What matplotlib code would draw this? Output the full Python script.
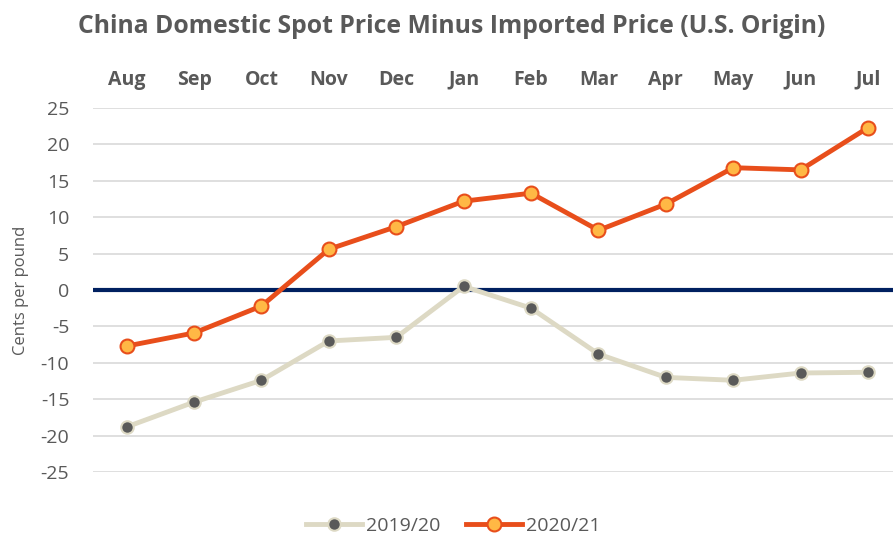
import numpy as np
import matplotlib.pyplot as plt

# data
months = ['Aug', 'Sep', 'Oct', 'Nov', 'Dec', 'Jan', 'Feb', 'Mar', 'Apr', 'May', 'Jun', 'Jul']
y2019 = [-18.8, -15.4, -12.4, -7.0, -6.5, 0.5, -2.5, -8.8, -12.0, -12.4, -11.4, -11.3]
y2020 = [-7.7, -5.9, -2.2, 5.6, 8.7, 12.2, 13.3, 8.2, 11.8, 16.8, 16.5, 22.3]
yticks = [25, 20, 15, 10, 5, 0, -5, -10, -15, -20, -25]

plt.rcParams['font.family'] = ['Open Sans', 'DejaVu Sans']
grey = '#595959'

fig = plt.figure(figsize=(8.93, 5.33), dpi=100)
ax = fig.add_axes([0.1041, 0.1144, 0.8959, 0.683])

x = np.arange(len(months))
for t in yticks:
    if t != 0:
        ax.axhline(t, color='#d9d9d9', lw=1.2, zorder=1)
ax.axhline(0, color='#002060', lw=3, zorder=2)

ax.plot(x, y2019, color='#ddd9c4', lw=3.5, marker='o', ms=9,
        mfc='#595959', mec='#ddd9c4', mew=1.5, label='2019/20', zorder=3)
ax.plot(x, y2020, color='#e84e1b', lw=3.5, marker='o', ms=10,
        mfc='#ffb845', mec='#e84e1b', mew=1.5, label='2020/21', zorder=4)

ax.set_xlim(-0.5, 11.37)
ax.set_ylim(-25, 25)
ax.set_yticks(yticks)
ax.set_yticklabels([str(t) for t in yticks], fontsize=14, color=grey)
ax.set_xticks(x)
ax.set_xticklabels(months, fontsize=14, fontweight='bold', color=grey)
ax.xaxis.tick_top()
ax.tick_params(axis='both', length=0)
ax.tick_params(axis='x', pad=13)
ax.tick_params(axis='y', pad=17)
for s in ax.spines.values():
    s.set_visible(False)

ax.set_ylabel('Cents per pound', fontsize=12, color=grey, labelpad=8)

fig.text(0.506, 0.951, 'China Domestic Spot Price Minus Imported Price (U.S. Origin)',
         ha='center', va='center', fontsize=17.8, fontweight='bold', color=grey)

leg = ax.legend(loc='lower center', bbox_to_anchor=(0.45, -0.22), ncol=2,
                frameon=False, fontsize=14, handlelength=2.9, columnspacing=1.3,
                handletextpad=0.2)
for t in leg.get_texts():
    t.set_color(grey)

fig.savefig('out.png', dpi=100)
